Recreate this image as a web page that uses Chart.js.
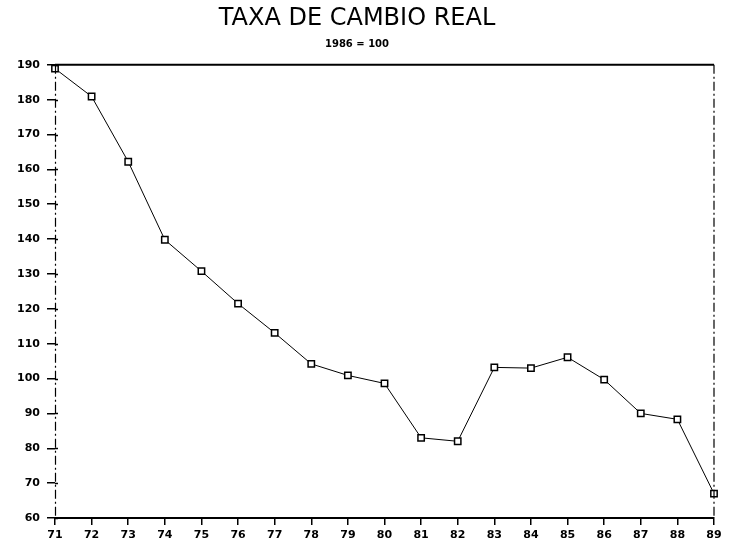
<!DOCTYPE html>
<html>
<head>
<meta charset="utf-8">
<script src="https://cdn.jsdelivr.net/npm/chart.js@4/dist/chart.umd.min.js"></script>
<style>
  html, body { margin: 0; padding: 0; background: #fff; }
  #wrap { width: 731px; height: 548px; }
</style>
</head>
<body>
<div id="wrap"><canvas id="chart" width="731" height="548"></canvas></div>
<script>
const years = ['71','72','73','74','75','76','77','78','79','80','81','82','83','84','85','86','87','88','89'];
const realRate = [188.9, 180.9, 162.2, 139.8, 130.8, 121.5, 113.1, 104.2, 100.9, 98.6, 83.0, 82.0, 103.2, 103.0, 106.1, 99.7, 90.0, 88.3, 67.0];
const yTicks = { min: 60, max: 190, step: 10 };

const dashDot = [9, 3, 2, 3];

// frame: solid top, dash-dot left and right, small inner ticks on y axis
const framePlugin = {
    id: 'frame',
    afterDatasetsDraw(chart) {
        const { ctx, chartArea: a, scales } = chart;
        ctx.save();
        ctx.strokeStyle = '#000';
        ctx.lineWidth = 2;
        ctx.beginPath();
        ctx.moveTo(a.left, a.top);
        ctx.lineTo(a.right, a.top);
        ctx.stroke();
        ctx.lineWidth = 1.2;
        ctx.setLineDash(dashDot);
        [a.left + 0.5, a.right].forEach(px => {
            ctx.beginPath();
            ctx.moveTo(px, a.top);
            ctx.lineTo(px, a.bottom);
            ctx.stroke();
        });
        ctx.setLineDash([]);
        ctx.lineWidth = 1.5;
        scales.y.ticks.forEach(t => {
            const py = Math.round(scales.y.getPixelForValue(t.value)) + 0.5;
            ctx.beginPath();
            ctx.moveTo(a.left, py);
            ctx.lineTo(a.left + 3, py);
            ctx.stroke();
        });
        ctx.restore();
    }
};

new Chart(document.getElementById('chart'), {
    type: 'line',
    data: {
        labels: years,
        datasets: [{
            data: realRate,
            borderColor: '#000',
            borderWidth: 1,
            tension: 0,
            pointStyle: 'rect',
            pointRadius: 4.5,
            pointBorderWidth: 1.5,
            pointBorderColor: '#000',
            pointBackgroundColor: '#fff'
        }]
    },
    options: {
        responsive: false,
        animation: false,
        layout: { padding: { left: 0, right: 17, top: 0, bottom: 0 } },
        plugins: {
            legend: { display: false },
            tooltip: { enabled: false },
            title: {
                display: true,
                text: 'TAXA DE CAMBIO REAL',
                color: '#000',
                font: { family: 'DejaVu Sans', size: 24, weight: 'normal' },
                padding: { top: 4, bottom: 6 }
            },
            subtitle: {
                display: true,
                text: '1986 = 100',
                color: '#000',
                font: { family: 'DejaVu Sans', size: 10, weight: 'bold' },
                padding: { top: 0, bottom: 14 }
            }
        },
        scales: {
            x: {
                offset: false,
                grid: { display: true, drawOnChartArea: false, tickLength: 7, color: '#000', lineWidth: 1.5 },
                border: { display: true, color: '#000', width: 2 },
                ticks: {
                    color: '#000',
                    padding: 4,
                    maxRotation: 0,
                    autoSkip: false,
                    font: { family: 'DejaVu Sans', size: 11, weight: 'bold' }
                },
                afterFit(scale) { scale.height = 30; }
            },
            y: {
                min: yTicks.min,
                max: yTicks.max,
                grid: { display: true, drawOnChartArea: false, drawTicks: true, tickLength: 8, color: '#000', lineWidth: 1.5 },
                border: { display: false },
                ticks: {
                    stepSize: yTicks.step,
                    color: '#000',
                    padding: 7,
                    font: { family: 'DejaVu Sans', size: 11, weight: 'bold' }
                },
                afterFit(scale) { scale.width = 55; }
            }
        }
    },
    plugins: [framePlugin]
});
</script>
</body>
</html>
